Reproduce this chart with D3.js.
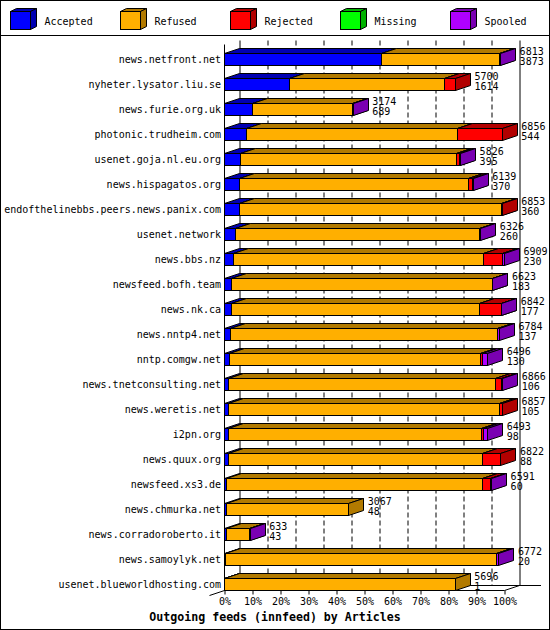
<!DOCTYPE html>
<html><head><meta charset="utf-8">
<script src="https://cdn.jsdelivr.net/npm/d3@7"></script>
<style>
body{margin:0;background:#fff}
svg{display:block}
text{font-family:"DejaVu Sans Mono",monospace;font-size:10px;fill:#000}
</style>
</head><body><svg id="c" width="550" height="630"></svg>
<script>
const hosts = ["news.netfront.net","nyheter.lysator.liu.se","news.furie.org.uk","photonic.trudheim.com","usenet.goja.nl.eu.org","news.hispagatos.org","endofthelinebbs.peers.news.panix.com","usenet.network","news.bbs.nz","newsfeed.bofh.team","news.nk.ca","news.nntp4.net","nntp.comgw.net","news.tnetconsulting.net","news.weretis.net","i2pn.org","news.quux.org","newsfeed.xs3.de","news.chmurka.net","news.corradoroberto.it","news.samoylyk.net","usenet.blueworldhosting.com"];
const totals   = [6813,5700,3174,6856,5826,6139,6853,6326,6909,6623,6842,6784,6496,6866,6857,6493,6822,6591,3067,633,6772,5696];
const accepted = [3873,1614,689,544,395,370,360,260,230,183,177,137,130,106,105,98,88,60,48,43,20,1];
const refused  = [2920,3822,2480,5202,5336,5654,6483,6041,6165,6425,6122,6607,6176,6570,6677,6255,6289,6314,3019,585,6702,5695];
const rejected = [0,264,0,1110,65,100,10,0,454,0,528,0,50,165,75,40,445,197,0,0,0,0];
const missing  = [0,0,0,0,0,0,0,0,0,0,0,0,0,0,0,0,0,0,0,0,0,0];
const spooled  = [20,0,5,0,30,15,0,25,60,15,15,40,140,25,0,100,0,20,0,5,50,0];
const seriesNames  = ["Accepted","Refused","Rejected","Missing","Spooled"];
const seriesFront  = ["#0000ff","#ffaf00","#ff0000","#00ff00","#af00ff"];
const seriesShade  = ["#0000b2","#b27a00","#b20000","#00b200","#7a00b2"];
const tickPercents = [0,10,20,30,40,50,60,70,80,90,100];
const title = "Outgoing feeds (innfeed) by Articles";

const svg = d3.select("#c");
const DX = 15, DY = 5;
const maxTotal = d3.max(totals);
const xPct = d3.scaleLinear().domain([0,100]).range([224.5,504.5]);
const x = d3.scaleLinear().domain([0,maxTotal]).range([224.5,504.5]);
const y = d3.scalePoint().domain(hosts).range([59,584]);

// background + border
svg.append("rect").attr("x",0.5).attr("y",0.5).attr("width",549).attr("height",629)
  .attr("fill","#fff").attr("stroke","#000");
svg.append("line").attr("x1",0).attr("x2",550).attr("y1",35.5).attr("y2",35.5).attr("stroke","#000");

// legend
const leg = svg.append("g");
seriesNames.forEach((s,i)=>{
  const lx = 10.5 + i*110, ly = 11.5, w = 20, h = 18, d = 6, e = 3;
  const g = leg.append("g");
  g.append("path").attr("d",`M${lx},${ly}L${lx+d},${ly-e}L${lx+w+d},${ly-e}L${lx+w},${ly}Z`)
    .attr("fill",seriesShade[i]).attr("stroke","#000");
  g.append("path").attr("d",`M${lx+w},${ly}L${lx+w+d},${ly-e}L${lx+w+d},${ly+h-e}L${lx+w},${ly+h}Z`)
    .attr("fill",seriesShade[i]).attr("stroke","#000");
  g.append("rect").attr("x",lx).attr("y",ly).attr("width",w).attr("height",h)
    .attr("fill",seriesFront[i]).attr("stroke","#000");
  g.append("text").attr("x",lx+34).attr("y",24.5).text(s);
});

// grid (back plane)
const yTopPlot = 40.5, yFloorBack = 585.5, yFloorFront = 590.5;
tickPercents.forEach(p=>{
  const gx = Math.round(xPct(p)) + DX + 0.5 - 0.5;
  svg.append("line").attr("x1",gx).attr("x2",gx).attr("y1",yTopPlot).attr("y2",yFloorBack)
    .attr("stroke","#000").attr("stroke-dasharray",(p===0||p===100)?null:"5,3");
});
svg.append("line").attr("x1",xPct(0)+DX).attr("x2",541).attr("y1",yFloorBack).attr("y2",yFloorBack).attr("stroke","#000");
// front axis
svg.append("line").attr("x1",xPct(0)).attr("x2",xPct(0)).attr("y1",44.5).attr("y2",yFloorFront).attr("stroke","#000");
svg.append("line").attr("x1",xPct(0)).attr("x2",xPct(100)).attr("y1",yFloorFront).attr("y2",yFloorFront).attr("stroke","#000");
svg.append("line").attr("x1",xPct(0)-DX).attr("x2",xPct(0)).attr("y1",yFloorFront+DY).attr("y2",yFloorFront).attr("stroke","#000");
svg.append("line").attr("x1",xPct(100)).attr("x2",xPct(100)+DX).attr("y1",yFloorFront).attr("y2",yFloorBack).attr("stroke","#000");

const axis = d3.axisBottom(xPct).tickValues(tickPercents).tickFormat(d=>d+"%").tickSize(4).tickSizeOuter(0);
const ag = svg.append("g").attr("transform",`translate(0,${yFloorFront})`).call(axis);
ag.select(".domain").remove();
ag.selectAll("line").attr("stroke","#000");
ag.selectAll("text").attr("y",7).attr("dy","0.71em").style("font-family","DejaVu Sans Mono").style("font-size","10px").attr("fill","#000");

// bars
const rows = hosts.map((h,i)=>({host:h,Accepted:accepted[i],Refused:refused[i],Rejected:rejected[i],Missing:missing[i],Spooled:spooled[i]}));
const stack = d3.stack().keys(seriesNames)(rows);
const bars = svg.append("g");
hosts.forEach((h,i)=>{
  const c = y(h);
  const yt = c - 5.5, yb = c + 6.5;
  stack.forEach((layer,k)=>{
    const d = layer[i];
    if (d[1]-d[0] <= 0) return;
    const x0 = Math.round(x(d[0])-0.5)+0.5, x1 = Math.round(x(d[1])-0.5)+0.5;
    const g = bars.append("g");
    g.append("rect").attr("x",x0).attr("y",yt).attr("width",Math.max(0,x1-x0)).attr("height",yb-yt)
      .attr("fill",seriesFront[k]).attr("stroke","#000");
    g.append("path").attr("d",`M${x0},${yt}L${x0+DX},${yt-DY}L${x1+DX},${yt-DY}L${x1},${yt}Z`)
      .attr("fill",seriesShade[k]).attr("stroke","#000");
    g.append("path").attr("d",`M${x1},${yt}L${x1+DX},${yt-DY}L${x1+DX},${yb-DY}L${x1},${yb}Z`)
      .attr("fill",seriesShade[k]).attr("stroke","#000");
  });
  svg.append("text").attr("x",221).attr("y",c+4).attr("text-anchor","end").text(h);
  const xe = x(totals[i]) + DX + 4;
  svg.append("text").attr("x",xe).attr("y",c-4).text(totals[i]);
  svg.append("text").attr("x",xe).attr("y",c+6).text(accepted[i]);
});

svg.append("text").attr("x",275).attr("y",621).attr("text-anchor","middle")
  .style("font-weight","bold").style("font-size","11.6px").text(title);
</script>
</body></html>
